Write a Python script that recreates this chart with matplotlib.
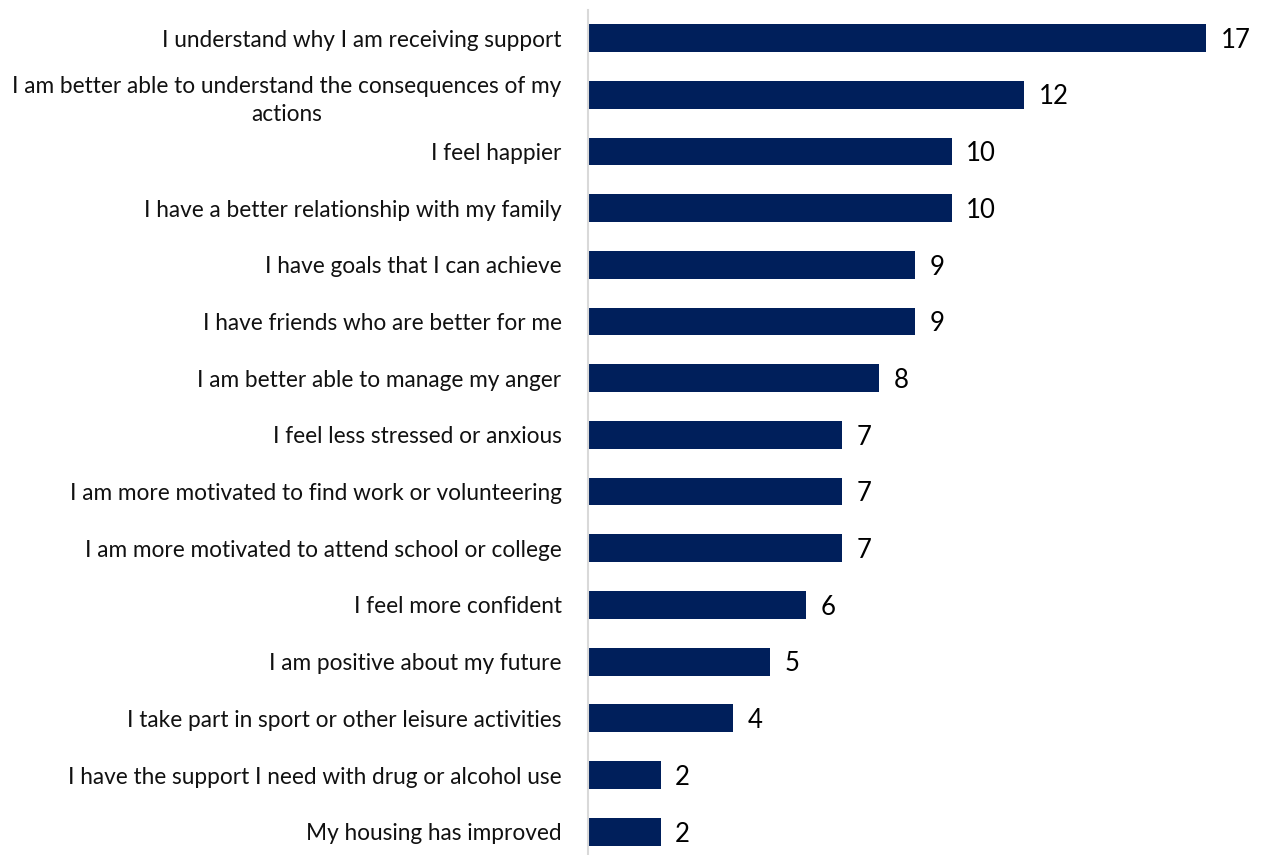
import matplotlib.pyplot as plt

categories = [
    "I understand why I am receiving support",
    "I am better able to understand the consequences of my\nactions",
    "I feel happier",
    "I have a better relationship with my family",
    "I have goals that I can achieve",
    "I have friends who are better for me",
    "I am better able to manage my anger",
    "I feel less stressed or anxious",
    "I am more motivated to find work or volunteering",
    "I am more motivated to attend school or college",
    "I feel more confident",
    "I am positive about my future",
    "I take part in sport or other leisure activities",
    "I have the support I need with drug or alcohol use",
    "My housing has improved",
]
counts = [17, 12, 10, 10, 9, 9, 8, 7, 7, 7, 6, 5, 4, 2, 2]

plt.rcParams['font.family'] = ['Lato', 'DejaVu Sans']

fig = plt.figure(figsize=(12.66, 8.55), dpi=100)
ax = fig.add_axes([588 / 1266, 0.0, 1 - 588 / 1266, 1 - 10 / 855])

ypos = list(range(len(categories)))
bars = ax.barh(ypos, counts, height=0.49, color='#001F5B')

for b, v in zip(bars, counts):
    ax.text(b.get_width() + 0.4, b.get_y() + b.get_height() / 2 + 0.04, str(v),
            va='center', ha='left', fontsize=18.5, color='#000000')

ax.set_yticks(ypos)
ax.set_yticklabels(categories, fontsize=16.3, color='#111111',
                   multialignment='center', linespacing=1.4)
ax.tick_params(axis='y', length=0, pad=19)
ax.set_xticks([])
ax.set_xlim(0, 18.65)
ax.set_ylim(14.41, -0.494)

for s in ['top', 'right', 'bottom']:
    ax.spines[s].set_visible(False)
ax.spines['left'].set_color('#d9d9d9')
ax.spines['left'].set_linewidth(1.5)

fig.savefig('out.png', dpi=100)
